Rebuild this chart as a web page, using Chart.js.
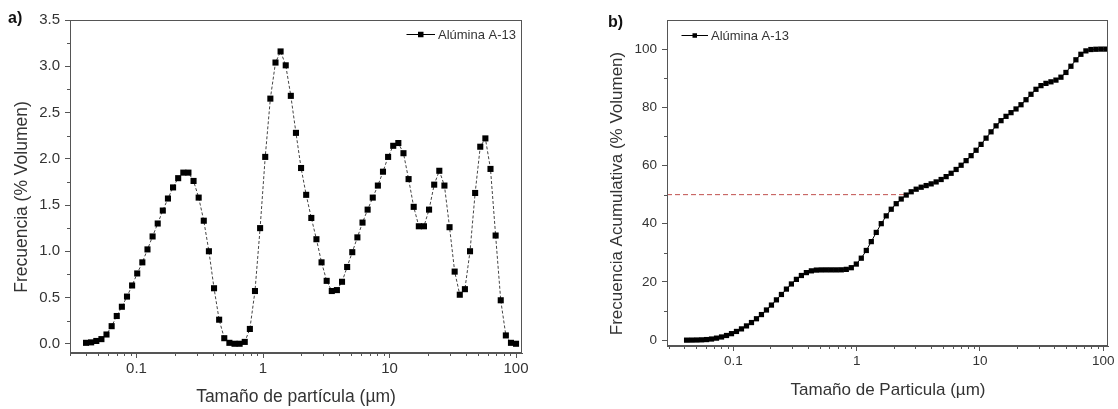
<!DOCTYPE html>
<html>
<head>
<meta charset="utf-8">
<script src="https://cdn.jsdelivr.net/npm/chart.js@4.4.1/dist/chart.umd.min.js"></script>
<style>
  body { margin: 0; background: #fff; }
  #wrap { position: relative; width: 1118px; height: 409px; }
  canvas { position: absolute; top: 0; }
  #chartA { left: 0; }
  #chartB { left: 559px; }
</style>
</head>
<body>
<div id="wrap">
  <canvas id="chartA" width="559" height="409"></canvas>
  <canvas id="chartB" width="559" height="409"></canvas>
</div>
<script>
// === Data ===
const seriesName = "Alúmina A-13";

// particle size classes, µm (panel a)
const sizes = [
  0.0399, 0.0438, 0.0481, 0.0528, 0.0579, 0.0636, 0.0698, 0.0766, 0.0841, 0.0923,
  0.1013, 0.1112, 0.1221, 0.1340, 0.1471, 0.1614, 0.1772, 0.1945, 0.2135, 0.2344,
  0.2573, 0.2824, 0.3100, 0.3402, 0.3735, 0.4100, 0.4500, 0.4940, 0.5422, 0.5952,
  0.6533, 0.7171, 0.7872, 0.8641, 0.9485, 1.041, 1.143, 1.255, 1.377, 1.512,
  1.659, 1.821, 1.999, 2.194, 2.409, 2.644, 2.902, 3.186, 3.497, 3.838,
  4.213, 4.625, 5.077, 5.573, 6.117, 6.714, 7.370, 8.090, 8.880, 9.747,
  10.70, 11.74, 12.89, 14.15, 15.53, 17.05, 18.71, 20.54, 22.55, 24.75,
  27.17, 29.82, 32.73, 35.93, 39.44, 43.29, 47.52, 52.16, 57.25, 62.84,
  68.98, 75.72, 83.11, 91.23, 100.0
];

// frequency, % volume (panel a)
const freqA = [
  0.01, 0.015, 0.03, 0.05, 0.10, 0.19, 0.30, 0.40, 0.51, 0.63,
  0.76, 0.88, 1.02, 1.16, 1.30, 1.44, 1.57, 1.69, 1.79, 1.85,
  1.85, 1.76, 1.58, 1.33, 1.00, 0.60, 0.26, 0.06, 0.01, 0.00,
  0.00, 0.02, 0.16, 0.57, 1.25, 2.02, 2.65, 3.04, 3.16, 3.01,
  2.68, 2.28, 1.90, 1.61, 1.36, 1.13, 0.88, 0.68, 0.57, 0.58,
  0.67, 0.83, 0.99, 1.15, 1.31, 1.45, 1.58, 1.71, 1.86, 2.02,
  2.14, 2.17, 2.06, 1.78, 1.48, 1.27, 1.27, 1.45, 1.72, 1.87,
  1.71, 1.26, 0.78, 0.53, 0.59, 1.00, 1.63, 2.13, 2.22, 1.89,
  1.17, 0.47, 0.09, 0.01, 0.00
];

// upper size of each class, µm (panel b)
const sizesB = [
  0.0418, 0.0459, 0.0504, 0.0553, 0.0607, 0.0666, 0.0731, 0.0803, 0.0881, 0.0967,
  0.1061, 0.1165, 0.1279, 0.1404, 0.1541, 0.1691, 0.1857, 0.2038, 0.2237, 0.2456,
  0.2696, 0.2959, 0.3248, 0.3564, 0.3913, 0.4296, 0.4715, 0.5176, 0.5681, 0.6236,
  0.6845, 0.7513, 0.8247, 0.9053, 0.9937, 1.091, 1.198, 1.315, 1.443, 1.584,
  1.738, 1.908, 2.094, 2.299, 2.524, 2.770, 3.040, 3.338, 3.664, 4.021,
  4.414, 4.845, 5.319, 5.838, 6.409, 7.034, 7.722, 8.476, 9.303, 10.21,
  11.21, 12.30, 13.51, 14.82, 16.27, 17.86, 19.61, 21.52, 23.63, 25.93,
  28.46, 31.24, 34.29, 37.64, 41.32, 45.36, 49.79, 54.65, 59.98, 65.84,
  72.27, 79.33, 87.07, 95.58, 104.9
];

// cumulative frequency, % volume (panel b)
const cumB = [
  0.01, 0.03, 0.06, 0.11, 0.21, 0.40, 0.70, 1.10, 1.61, 2.24,
  3.00, 3.88, 4.90, 6.06, 7.36, 8.80, 10.37, 12.06, 13.85, 15.70,
  17.55, 19.31, 20.89, 22.22, 23.22, 23.82, 24.08, 24.14, 24.15, 24.15,
  24.15, 24.17, 24.33, 24.90, 26.15, 28.17, 30.82, 33.86, 37.02, 40.03,
  42.71, 44.99, 46.89, 48.50, 49.86, 50.99, 51.87, 52.55, 53.12, 53.70,
  54.37, 55.20, 56.19, 57.34, 58.65, 60.10, 61.68, 63.39, 65.25, 67.27,
  69.41, 71.58, 73.64, 75.42, 76.90, 78.17, 79.44, 80.89, 82.61, 84.48,
  86.19, 87.45, 88.23, 88.76, 89.35, 90.35, 91.98, 94.11, 96.33, 98.22,
  99.39, 99.86, 99.95, 100.0, 100.0
];

const d50 = 2.6;       // where the 50 % line meets the curve
const d50Level = 50;

// ticks
const xTicks = [0.1, 1, 10, 100];
const xMinor = [0.03, 0.04, 0.05, 0.06, 0.07, 0.08, 0.09,
                0.2, 0.3, 0.4, 0.5, 0.6, 0.7, 0.8, 0.9,
                2, 3, 4, 5, 6, 7, 8, 9,
                20, 30, 40, 50, 60, 70, 80, 90];
const yTicksA = [0, 0.5, 1, 1.5, 2, 2.5, 3, 3.5];
const yMinorA = [0.25, 0.75, 1.25, 1.75, 2.25, 2.75, 3.25];
const yTicksB = [0, 20, 40, 60, 80, 100];
const yMinorB = [10, 30, 50, 70, 90];

// axis ranges
const xMinA = 0.0298, xMaxA = 111.5;
const xMinB = 0.0290, xMaxB = 109.2;

const FONT = "'Liberation Sans', Arial, sans-serif";
const INK = "#333";
const AXIS = "#555";

// frame, minor ticks, legend and free texts
const decor = {
  id: "decor",
  afterDraw(chart, args, opts) {
    const { ctx, chartArea: a, scales } = chart;
    ctx.save();
    ctx.lineWidth = 1;
    ctx.strokeStyle = AXIS;
    ctx.strokeRect(Math.round(a.left) + 0.5, Math.round(a.top) + 0.5,
                   Math.round(a.right - a.left) - 1, Math.round(a.bottom - a.top) - 1);

    ctx.beginPath();
    opts.xMinor.forEach(v => {
      const px = Math.round(scales.x.getPixelForValue(v)) + 0.5;
      if (px < a.left || px > a.right) return;
      ctx.moveTo(px, a.bottom);
      ctx.lineTo(px, a.bottom + 3);
    });
    opts.yMinor.forEach(v => {
      const py = Math.round(scales.y.getPixelForValue(v)) + 0.5;
      ctx.moveTo(a.left, py);
      ctx.lineTo(a.left - 3, py);
    });
    ctx.stroke();

    // legend: —■— name
    const lg = opts.legend;
    ctx.strokeStyle = "#000";
    ctx.beginPath();
    ctx.moveTo(lg.x, lg.y + 0.5);
    ctx.lineTo(lg.x + lg.len, lg.y + 0.5);
    ctx.stroke();
    ctx.fillStyle = "#000";
    const cx = lg.x + lg.len / 2;
    ctx.fillRect(cx - lg.size / 2, lg.y + 0.5 - lg.size / 2, lg.size, lg.size);
    ctx.fillStyle = INK;
    ctx.font = "13px " + FONT;
    ctx.textAlign = "left";
    ctx.textBaseline = "middle";
    ctx.fillText(seriesName, lg.x + lg.len + 3, lg.y + 1);

    opts.texts.forEach(t => {
      ctx.save();
      ctx.translate(t.x, t.y);
      if (t.rotate) ctx.rotate(t.rotate * Math.PI / 180);
      ctx.font = t.font + " " + FONT;
      ctx.fillStyle = t.color || INK;
      ctx.textAlign = t.align || "center";
      ctx.textBaseline = "alphabetic";
      ctx.fillText(t.text, 0, 0);
      ctx.restore();
    });
    ctx.restore();
  }
};

function logAxis(min, max, height, fontSize) {
  return {
    type: "logarithmic",
    min: min,
    max: max,
    afterBuildTicks: s => { s.ticks = xTicks.map(v => ({ value: v })); },
    afterFit: s => { s.height = height; },
    grid: { drawOnChartArea: false, tickLength: 5, tickColor: AXIS },
    border: { color: AXIS },
    ticks: {
      autoSkip: false, maxRotation: 0, padding: 2, color: INK,
      font: { family: FONT, size: fontSize },
      callback: v => String(v)
    }
  };
}

function linAxis(min, max, ticks, width, fontSize, fmt) {
  return {
    type: "linear",
    min: min,
    max: max,
    afterBuildTicks: s => { s.ticks = ticks.map(v => ({ value: v })); },
    afterFit: s => { s.width = width; },
    grid: { drawOnChartArea: false, tickLength: 5, tickColor: AXIS },
    border: { color: AXIS },
    ticks: {
      padding: 5, color: INK,
      font: { family: FONT, size: fontSize },
      callback: fmt
    }
  };
}

// === Panel a ===
new Chart(document.getElementById("chartA"), {
  type: "line",
  data: {
    datasets: [{
      label: seriesName,
      data: sizes.map((s, i) => ({ x: s, y: freqA[i] })),
      borderColor: "#444",
      borderWidth: 1,
      borderDash: [3, 2],
      pointStyle: "rect",
      pointRadius: 4.3,
      pointBorderWidth: 0,
      pointBackgroundColor: "#000",
      tension: 0
    }]
  },
  options: {
    responsive: false,
    animation: false,
    events: [],
    layout: { padding: { left: 0, top: 20, right: 37, bottom: 0 } },
    scales: {
      x: logAxis(xMinA, xMaxA, 56, 15),
      y: linAxis(-0.1, 3.5, yTicksA, 70, 15, v => v.toFixed(1))
    },
    plugins: {
      legend: { display: false },
      tooltip: { enabled: false },
      decor: {
        xMinor: xMinor,
        yMinor: yMinorA,
        legend: { x: 406.5, y: 34, len: 28.5, size: 5.5 },
        texts: [
          { text: "a)", x: 8, y: 23, font: "bold 16px", align: "left", color: "#111" },
          { text: "Frecuencia (% Volumen)", x: 27, y: 197, rotate: -90, font: "17.5px" },
          { text: "Tamaño de partícula (µm)", x: 296, y: 402, font: "17.5px" }
        ]
      }
    }
  },
  plugins: [decor]
});

// === Panel b ===
new Chart(document.getElementById("chartB"), {
  type: "line",
  data: {
    datasets: [{
      label: seriesName,
      data: sizesB.map((s, i) => ({ x: s, y: cumB[i] })),
      borderColor: "#000",
      borderWidth: 1,
      pointStyle: "rect",
      pointRadius: 3.7,
      pointBorderWidth: 0,
      pointBackgroundColor: "#000",
      tension: 0
    }, {
      label: "D50",
      data: [{ x: xMinB, y: d50Level }, { x: d50, y: d50Level }],
      borderColor: "#c0504d",
      borderWidth: 1,
      borderDash: [5, 3],
      pointRadius: 0
    }]
  },
  options: {
    responsive: false,
    animation: false,
    events: [],
    layout: { padding: { left: 0, top: 20, right: 10, bottom: 0 } },
    scales: {
      x: logAxis(xMinB, xMaxB, 63, 13.5),
      y: linAxis(-2, 110, yTicksB, 108, 13.5, v => String(v))
    },
    plugins: {
      legend: { display: false },
      tooltip: { enabled: false },
      decor: {
        xMinor: xMinor,
        yMinor: yMinorB,
        legend: { x: 122.5, y: 35, len: 26.5, size: 4.5 },
        texts: [
          { text: "b)", x: 49, y: 27, font: "bold 16px", align: "left", color: "#111" },
          { text: "Frecuencia Acumulativa (% Volumen)", x: 63, y: 193.5, rotate: -90, font: "17px" },
          { text: "Tamaño de Particula (µm)", x: 329, y: 395, font: "17px" }
        ]
      }
    }
  },
  plugins: [decor]
});
</script>
</body>
</html>
